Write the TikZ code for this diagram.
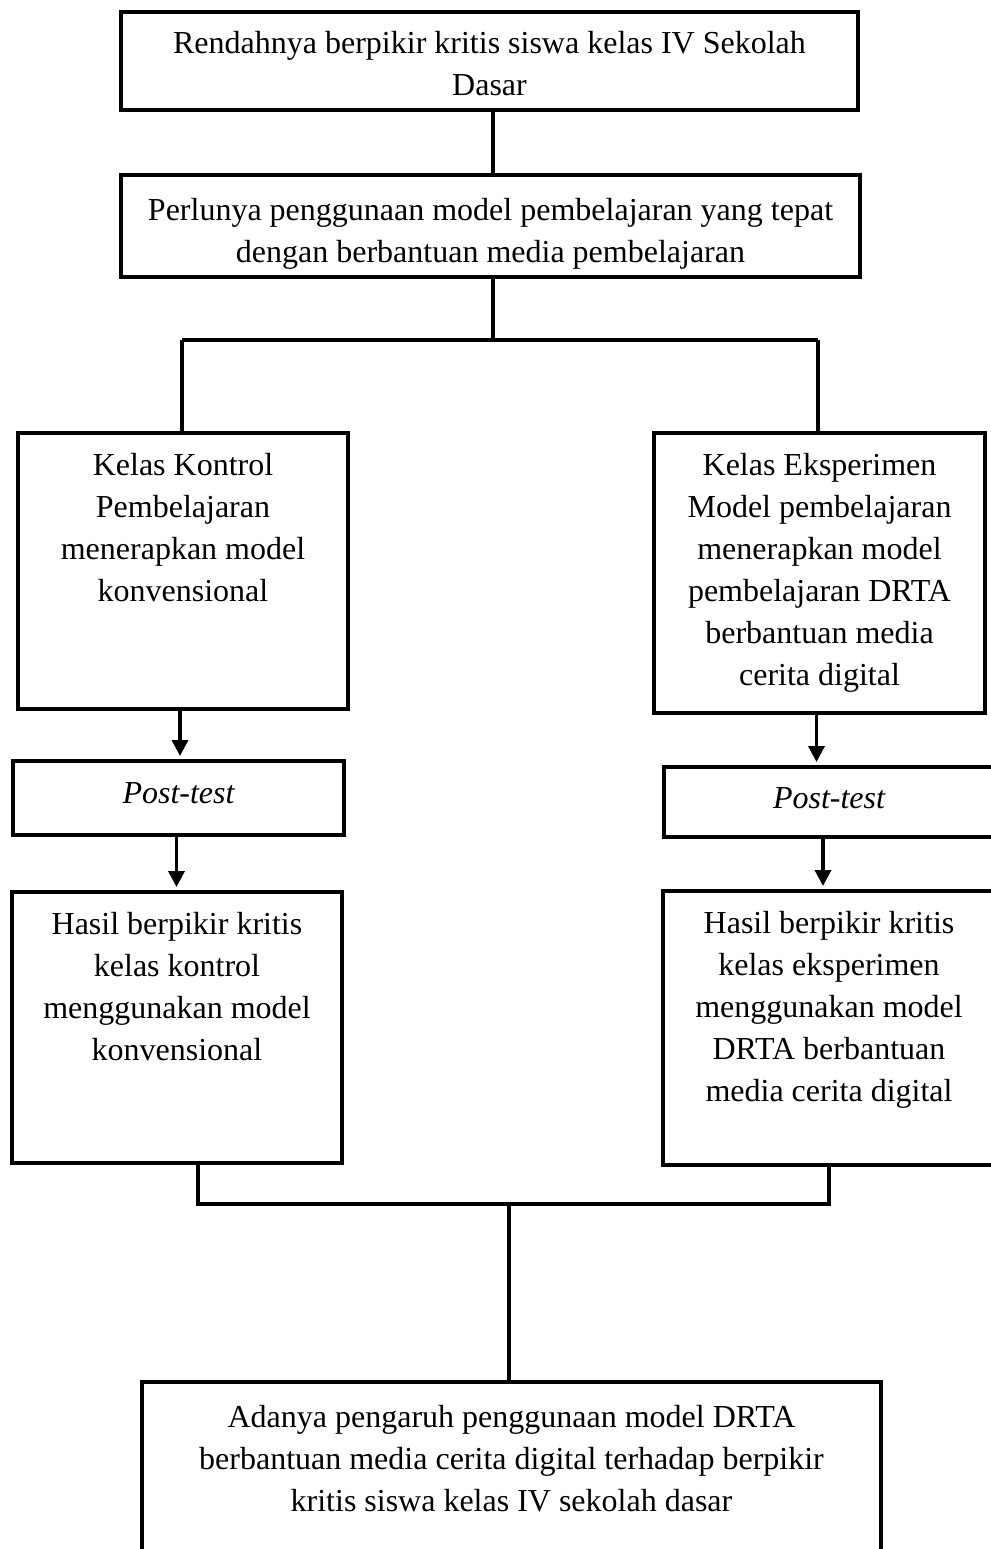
\documentclass[tikz,border=0pt]{standalone}
\usepackage{fontspec}
\setmainfont{Liberation Serif}
\usetikzlibrary{arrows.meta}
\newcommand{\bxt}[4]{\begin{minipage}[c][#2pt][t]{#1pt}\centering\vspace*{#3pt}\strut #4\end{minipage}}
\tikzset{
  boxnode/.style={draw, line width=4pt, inner sep=0pt, outer sep=0pt, anchor=north west,
    font=\fontsize{32}{42}\selectfont},
  conn/.style={line width=3.5pt},
  arr/.style={line width=3.5pt, -{Triangle[length=16pt,width=16pt]}, shorten >=5pt}
}
\begin{document}
\begin{tikzpicture}[x=1pt,y=-1pt]
\useasboundingbox (0,0) rectangle (990,1549);
\fill[white] (0,0) rectangle (990,1549);
% boxes
\node[boxnode] (B1) at (121,12) {\bxt{737}{98}{12.6}{Rendahnya berpikir kritis siswa kelas IV Sekolah\\Dasar}};
\node[boxnode] (B2) at (121,175) {\bxt{739}{102}{15.6}{Perlunya penggunaan model pembelajaran yang tepat\\dengan berbantuan media pembelajaran}};
\node[boxnode] (B3) at (18,433) {\bxt{330}{276}{12.6}{Kelas Kontrol\\Pembelajaran\\menerapkan model\\konvensional}};
\node[boxnode] (B4) at (654,433) {\bxt{331}{280}{12.6}{Kelas Eksperimen\\Model pembelajaran\\menerapkan model\\pembelajaran DRTA\\berbantuan media\\cerita digital}};
\node[boxnode] (PL) at (13,761) {\bxt{331}{74}{13}{\itshape Post-test}};
\node[boxnode] (PR) at (664,767) {\bxt{330}{70}{12}{\itshape Post-test}};
\node[boxnode] (B5) at (12,892) {\bxt{330}{271}{13}{Hasil berpikir kritis\\kelas kontrol\\menggunakan model\\konvensional}};
\node[boxnode] (B6) at (663,891) {\bxt{332}{274}{13}{Hasil berpikir kritis\\kelas eksperimen\\menggunakan model\\DRTA berbantuan\\media cerita digital}};
\node[boxnode] (B7) at (142,1382) {\bxt{739}{190}{15.6}{Adanya pengaruh penggunaan model DRTA\\berbantuan media cerita digital terhadap berpikir\\kritis siswa kelas IV sekolah dasar}};
% junction coordinates
\coordinate (j1) at (493,340);
\coordinate (jL) at (182,340);
\coordinate (jR) at (818,340);
\coordinate (bL) at (198,1204);
\coordinate (bR) at (829,1204);
\coordinate (bM) at (509,1204);
% connectors
\draw[conn] (B1.south -| j1) -- (B2.north -| j1);
\draw[conn] (B2.south -| j1) -- (j1);
\draw[conn] (jL) -- (jR);
\draw[conn] (jL) -- (B3.north -| jL);
\draw[conn] (jR) -- (B4.north -| jR);
\draw[arr] ([xshift=-3pt]B3.south) -- ([xshift=-3pt]B3.south |- PL.north);
\draw[arr] ([xshift=-2pt]PL.south) -- ([xshift=-2pt]PL.south |- B5.north);
\draw[arr] ([xshift=-3pt]B4.south) -- ([xshift=-3pt]B4.south |- PR.north);
\draw[arr] ([xshift=-6pt]PR.south) -- ([xshift=-6pt]PR.south |- B6.north);
\draw[conn] (B5.south -| bL) -- (bL) -- (bR) -- (B6.south -| bR);
\draw[conn] (bM) -- (B7.north -| bM);
\end{tikzpicture}
\end{document}
